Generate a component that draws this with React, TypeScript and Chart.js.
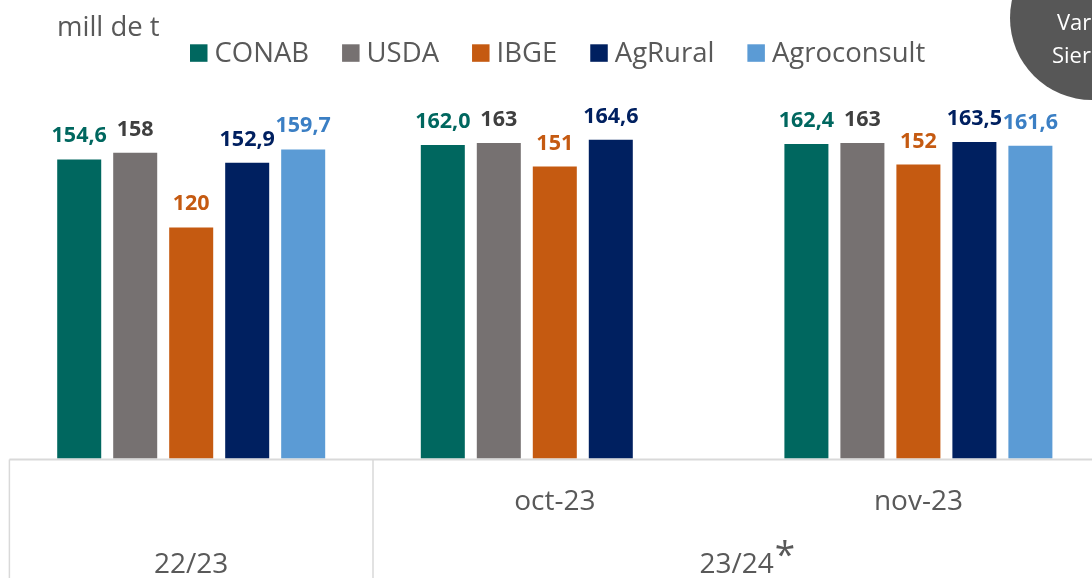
import React, { useEffect, useRef } from "react";
import { Chart, registerables } from "chart.js";

Chart.register(...registerables);

// ---------- data ----------
const categories: string[] = ["", "oct-23", "nov-23"];
const groupLabels: string[] = ["22/23", "23/24"];
const groupStart: number[] = [0, 1];
const groupEnd: number[] = [0, 2];
const groupMarks: string[] = ["", "*"];
const seriesNames: string[] = ["CONAB", "USDA", "IBGE", "AgRural", "Agroconsult"];
const conab: (number | null)[] = [154.6, 162.0, 162.4];
const usda: (number | null)[] = [158, 163, 163];
const ibge: (number | null)[] = [120, 151, 152];
const agrural: (number | null)[] = [152.9, 164.6, 163.5];
const agroconsult: (number | null)[] = [159.7, null, 161.6];
const labelDecimals: number[] = [1, 0, 0, 1, 1];
const unitLabel = "mill de t";
const badgeLines: string[] = ["Var", "Sier"];

// ---------- styles ----------
const FONT = '"Open Sans", sans-serif';
const barColors = ["#00675F", "#767171", "#C55A11", "#002060", "#5B9BD5"];
const labelColors = ["#00675F", "#3F3F3F", "#C55A11", "#002060", "#3B7FC4"];
const TEXT = "#595959";
const LINE = "#D9D9D9";

function fmt(v: number, d: number): string {
  return v.toFixed(d).replace(".", ",");
}

const overlay = {
  id: "overlay",
  afterDatasetsDraw(chart: any) {
    const ctx = chart.ctx as CanvasRenderingContext2D;
    chart.data.datasets.forEach((ds: any, i: number) => {
      const meta = chart.getDatasetMeta(i);
      meta.data.forEach((el: any, j: number) => {
        const v = ds.data[j];
        if (v == null) return;
        ctx.save();
        ctx.font = `bold 21.5px ${FONT}`;
        ctx.fillStyle = labelColors[i];
        ctx.textAlign = "center";
        ctx.textBaseline = "alphabetic";
        ctx.fillText(fmt(v, labelDecimals[i]), el.x, el.y - 17);
        ctx.restore();
      });
    });
  },
  afterDraw(chart: any) {
    const ctx = chart.ctx as CanvasRenderingContext2D;
    const area = chart.chartArea;
    const xs = chart.scales.x;
    const H = chart.height;
    const c0 = xs.getPixelForValue(0);
    const c1 = xs.getPixelForValue(1);
    const catW = c1 - c0;
    const base = area.bottom;

    ctx.save();
    // axis table lines
    ctx.strokeStyle = LINE;
    ctx.lineWidth = 2;
    ctx.beginPath();
    ctx.moveTo(area.left, base + 1);
    ctx.lineTo(area.right, base + 1);
    ctx.stroke();
    ctx.lineWidth = 1.5;
    groupStart.forEach((s, g) => {
      const xl = xs.getPixelForValue(s) - catW / 2;
      ctx.beginPath();
      ctx.moveTo(xl, base + 1);
      ctx.lineTo(xl, H);
      ctx.stroke();
      if (g === groupStart.length - 1) {
        const xr = xs.getPixelForValue(groupEnd[g]) + catW / 2;
        ctx.beginPath();
        ctx.moveTo(xr, base + 1);
        ctx.lineTo(xr, H);
        ctx.stroke();
      }
    });

    // category labels
    ctx.fillStyle = TEXT;
    ctx.textBaseline = "alphabetic";
    ctx.textAlign = "center";
    ctx.font = `28px ${FONT}`;
    categories.forEach((c, i) => {
      if (!c) return;
      ctx.fillText(c, xs.getPixelForValue(i), base + 51.5);
    });
    // group labels
    groupLabels.forEach((gl, g) => {
      const cx = (xs.getPixelForValue(groupStart[g]) + xs.getPixelForValue(groupEnd[g])) / 2;
      ctx.font = `28px ${FONT}`;
      ctx.textAlign = "center";
      ctx.fillText(gl, cx, base + 114);
      if (groupMarks[g]) {
        const w = ctx.measureText(gl).width;
        ctx.textAlign = "left";
        ctx.font = `37px ${FONT}`;
        ctx.fillText(groupMarks[g], cx + w / 2 + 1, base + 108);
      }
    });

    // unit label
    ctx.textAlign = "left";
    ctx.font = `27.5px ${FONT}`;
    ctx.fillText(unitLabel, 57, 35.5);

    // legend
    let lx = 190;
    const sq = 17.5;
    seriesNames.forEach((n, i) => {
      ctx.fillStyle = barColors[i];
      ctx.fillRect(lx, 44.3, sq, sq);
      ctx.fillStyle = TEXT;
      ctx.font = `27.5px ${FONT}`;
      ctx.textAlign = "left";
      ctx.fillText(n, lx + sq + 7, 62);
      lx += sq + 7 + ctx.measureText(n).width + 33;
    });

    // corner badge
    ctx.fillStyle = "#575757";
    ctx.beginPath();
    ctx.arc(1092, 18, 82, 0, Math.PI * 2);
    ctx.fill();
    ctx.fillStyle = "#FFFFFF";
    ctx.font = `22px ${FONT}`;
    ctx.textAlign = "left";
    ctx.fillText(badgeLines[0], 1057, 30);
    ctx.fillText(badgeLines[1], 1052, 63);
    ctx.restore();
  },
};

export default function App() {
  const ref = useRef<HTMLCanvasElement | null>(null);

  useEffect(() => {
    if (!ref.current) return;
    const series = [conab, usda, ibge, agrural, agroconsult];
    const chart = new Chart(ref.current, {
      type: "bar",
      data: {
        labels: categories,
        datasets: series.map((d, i) => ({
          label: seriesNames[i],
          data: d,
          backgroundColor: barColors[i],
          borderWidth: 0,
          categoryPercentage: 0.77,
          barPercentage: 0.786,
        })),
      },
      options: {
        responsive: false,
        animation: false,
        devicePixelRatio: 1,
        layout: { padding: { left: 9.4, right: 99.8, top: 70.2, bottom: 119.5 } },
        plugins: {
          legend: { display: false },
          tooltip: { enabled: false },
        },
        scales: {
          x: { display: false, offset: true, grid: { display: false } },
          y: { display: false, min: 2.5, max: 200 },
        },
      },
      plugins: [overlay],
    });
    return () => chart.destroy();
  }, []);

  return (
    <div
      style={{
        position: "fixed",
        left: 0,
        top: 0,
        width: 1092,
        height: 578,
        overflow: "hidden",
        background: "#FFFFFF",
      }}
    >
      <canvas ref={ref} width={1200} height={578} style={{ display: "block", width: 1200, height: 578 }} />
    </div>
  );
}
